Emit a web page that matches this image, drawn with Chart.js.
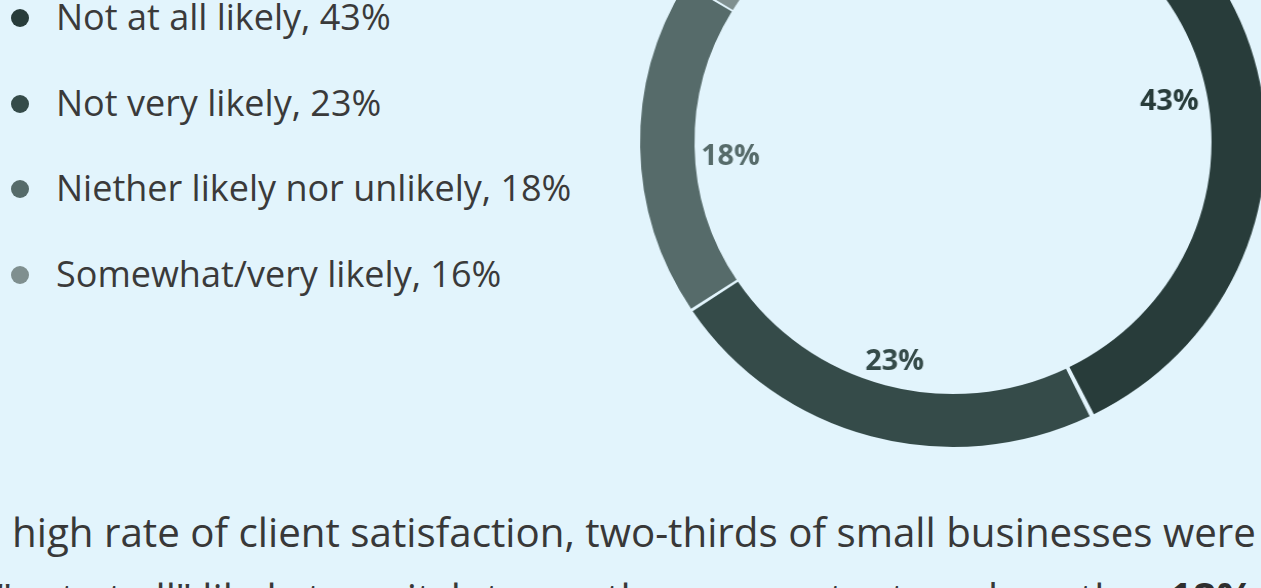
<!DOCTYPE html>
<html>
<head>
<meta charset="utf-8">
<script src="https://cdn.jsdelivr.net/npm/chart.js@4.4.3/dist/chart.umd.min.js"></script>
<style>
  html, body { margin: 0; padding: 0; }
  body {
    width: 1261px; height: 588px; overflow: hidden; position: relative;
    background: #e2f4fc; font-family: "Open Sans", "Noto Sans", sans-serif; color: #383838;
  }
  #legend { position: absolute; left: 0; top: 0; margin: 0; padding: 0; list-style: none; }
  #legend li {
    position: absolute; left: 11px; height: 48px; line-height: 48px;
    font-size: 36px; white-space: nowrap; color: #3a3a3a;
  }
  #legend li span {
    display: inline-block; width: 18px; height: 18px; border-radius: 50%;
    vertical-align: middle; margin-right: 27px; position: relative; top: -2px;
  }
  #wrap {
    position: absolute; left: 633px; top: -178px; width: 640px; height: 640px;
    transform: scaleX(1.026); transform-origin: 50% 50%;
  }
  .line { position: absolute; white-space: nowrap; font-size: 40.3px; line-height: 48px; color: #383838; }
  .line b { font-weight: 700; color: #2e2e2e; font-size: 42px; }
</style>
</head>
<body>
<ul id="legend"></ul>
<div id="wrap"><canvas id="donut" width="640" height="640"></canvas></div>
<div class="line" style="left:12px; top:508px;">high rate of client satisfaction, two-thirds of small businesses were</div>
<div class="line" style="left:-4px; top:573px;">"not at all" likely to switch to another accountant, and another <b>18%</b></div>
<script>
const categories = ["Not at all likely", "Not very likely", "Niether likely nor unlikely", "Somewhat/very likely"];
const shares = [43, 23, 18, 16];
const sliceColors = ["#283c3a", "#354b49", "#566b6a", "#7f8f8f"];
const legendTop = [-7, 79, 164, 250];

// legend on the left, built from the same arrays
const legend = document.getElementById("legend");
categories.forEach((name, i) => {
  const li = document.createElement("li");
  li.style.top = legendTop[i] + "px";
  li.innerHTML = `<span style="background:${sliceColors[i]}"></span>${name}, ${shares[i]}%`;
  legend.appendChild(li);
});

// percentage text just inside the ring
const innerLabels = {
  id: "innerLabels",
  afterDatasetsDraw(chart) {
    const ctx = chart.ctx;
    const meta = chart.getDatasetMeta(0);
    ctx.save();
    ctx.font = "bold 28px 'Open Sans', sans-serif";
    ctx.textAlign = "center";
    ctx.textBaseline = "middle";
    meta.data.forEach((arc, i) => {
      const { x, y, startAngle, endAngle, innerRadius } = arc.getProps(["x", "y", "startAngle", "endAngle", "innerRadius"], true);
      const mid = (startAngle + endAngle) / 2;
      const r = innerRadius - 33;
      ctx.fillStyle = sliceColors[i];
      ctx.fillText(shares[i] + "%", x + Math.cos(mid) * r, y + Math.sin(mid) * r + 11);
    });
    ctx.restore();
  }
};

new Chart(document.getElementById("donut"), {
  type: "doughnut",
  data: {
    labels: categories,
    datasets: [{
      data: shares,
      backgroundColor: sliceColors,
      borderWidth: 0,
      spacing: 4,
    }],
  },
  options: {
    responsive: false,
    animation: false,
    radius: 303,
    cutout: "82.5%",
    rotation: -1,
    layout: { padding: 0 },
    plugins: {
      legend: { display: false },
      tooltip: { enabled: false },
    },
  },
  plugins: [innerLabels],
});
</script>
</body>
</html>
